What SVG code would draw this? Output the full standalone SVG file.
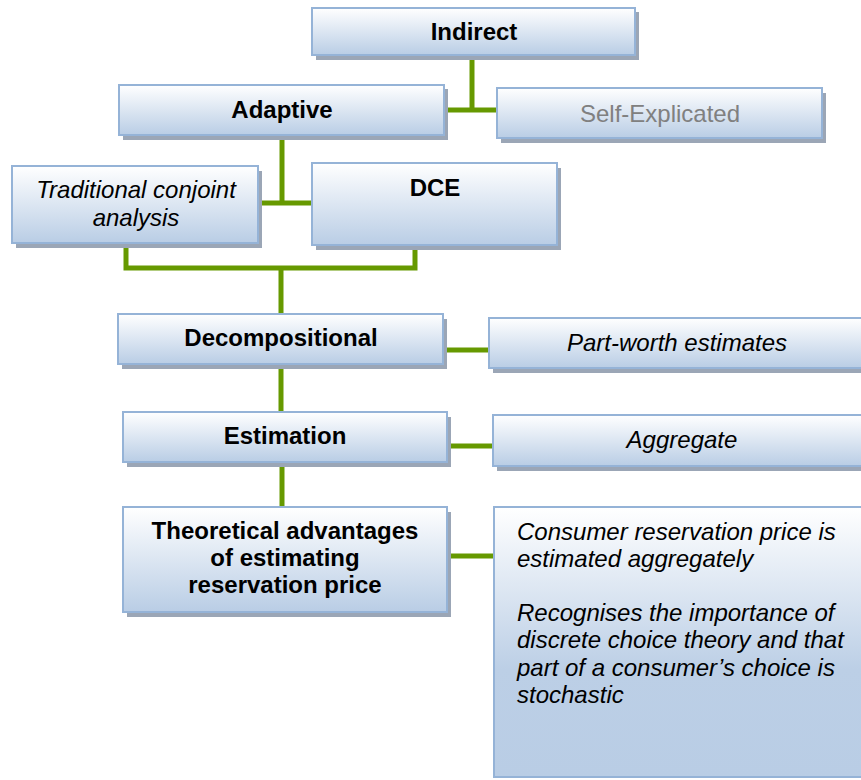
<svg xmlns="http://www.w3.org/2000/svg" width="861" height="780" viewBox="0 0 861 780">
<defs>
<linearGradient id="g" x1="0" y1="0" x2="0" y2="1">
<stop offset="0" stop-color="#ffffff"/>
<stop offset="1" stop-color="#b9cde5"/>
</linearGradient>
<linearGradient id="g2" x1="0" y1="0" x2="0" y2="1">
<stop offset="0" stop-color="#ffffff"/>
<stop offset="0.6" stop-color="#bccfe6"/>
<stop offset="1" stop-color="#b9cde5"/>
</linearGradient>
</defs>
<style>
.sh{fill:#9ba6b6}
.bx{fill:url(#g);stroke:#95b3d7;stroke-width:2}
.t{font-family:"Liberation Sans",Arial,sans-serif;font-size:24px;fill:#000}
.b{font-weight:bold}
.i{font-style:italic}
.c{text-anchor:middle}
.con{stroke:#669900;stroke-width:5;fill:none}
</style>
<rect width="861" height="780" fill="#ffffff"/>
<g id="connectors">
<path class="con" d="M472 55V110M444 110H497"/>
<path class="con" d="M282 135V203M258 203H312"/>
<path class="con" d="M126 243V268H415V245M281 268V314"/>
<path class="con" d="M443 350H489M281 364V412"/>
<path class="con" d="M447 446H493M282 462V507"/>
<path class="con" d="M447 556H494"/>
</g>
<g id="indirect">
<rect class="sh" x="316" y="12" width="323" height="48"/>
<rect class="bx" x="312" y="8" width="323" height="47"/>
<text class="t b c" x="474" y="40">Indirect</text>
</g>
<g id="adaptive">
<rect class="sh" x="123" y="89" width="325" height="51"/>
<rect class="bx" x="119" y="85" width="325" height="50"/>
<text class="t b c" x="282" y="118">Adaptive</text>
</g>
<g id="self-explicated">
<rect class="sh" x="501" y="93" width="325" height="50"/>
<rect class="bx" x="497" y="88" width="325" height="50"/>
<text class="t c" x="660" y="122" fill="#808080" style="fill:#808080">Self-Explicated</text>
</g>
<g id="traditional">
<rect class="sh" x="16" y="171" width="246" height="77"/>
<rect class="bx" x="12" y="166" width="246" height="77"/>
<text class="t i c" x="136" y="198">Traditional conjoint</text>
<text class="t i c" x="136" y="226">analysis</text>
</g>
<g id="dce">
<rect class="sh" x="316" y="168" width="245" height="82"/>
<rect class="bx" x="312" y="163" width="245" height="82"/>
<text class="t b c" x="435" y="196">DCE</text>
</g>
<g id="decompositional">
<rect class="sh" x="122" y="319" width="325" height="50"/>
<rect class="bx" x="118" y="314" width="325" height="50"/>
<text class="t b c" x="281" y="346">Decompositional</text>
</g>
<g id="part-worth">
<rect class="sh" x="493" y="323" width="380" height="50"/>
<rect class="bx" x="489" y="318" width="380" height="50"/>
<text class="t i c" x="677" y="351">Part-worth estimates</text>
</g>
<g id="estimation">
<rect class="sh" x="127" y="417" width="324" height="50"/>
<rect class="bx" x="123" y="412" width="324" height="50"/>
<text class="t b c" x="285" y="444">Estimation</text>
</g>
<g id="aggregate">
<rect class="sh" x="497" y="420" width="380" height="51"/>
<rect class="bx" x="493" y="415" width="380" height="51"/>
<text class="t i c" x="682" y="448">Aggregate</text>
</g>
<g id="theoretical">
<rect class="sh" x="127" y="512" width="324" height="105"/>
<rect class="bx" x="123" y="507" width="324" height="105"/>
<text class="t b c" x="285" y="539">Theoretical advantages</text>
<text class="t b c" x="285" y="566">of estimating</text>
<text class="t b c" x="285" y="593">reservation price</text>
</g>
<g id="consumer">
<rect class="bx" x="494" y="507" width="380" height="270" style="fill:url(#g2)"/>
<text class="t i" x="517" y="540">Consumer reservation price is</text>
<text class="t i" x="517" y="567">estimated aggregately</text>
<text class="t i" x="517" y="621">Recognises the importance of</text>
<text class="t i" x="517" y="648">discrete choice theory and that</text>
<text class="t i" x="517" y="676">part of a consumer’s choice is</text>
<text class="t i" x="517" y="703">stochastic</text>
</g>
</svg>
